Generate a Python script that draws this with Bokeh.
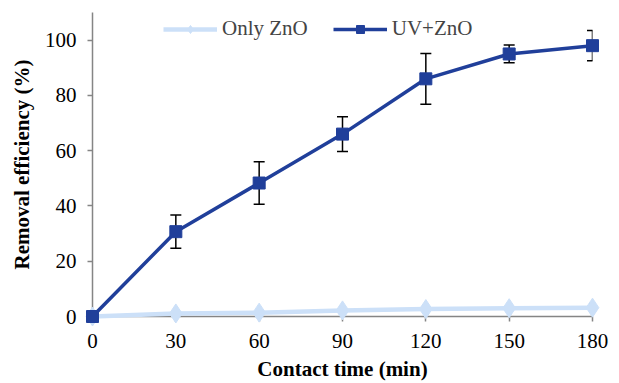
from bokeh.plotting import figure
from bokeh.models import ColumnDataSource, Whisker, Legend, LegendItem, Range1d, TeeHead, FixedTicker
from bokeh.embed import file_html
from bokeh.resources import INLINE

time_min = [0, 30, 60, 90, 120, 150, 180]
only_zno = [0, 1.1, 1.4, 2.2, 2.7, 3.0, 3.2]
uv_zno = [0, 30.7, 48.3, 66.0, 86.0, 95.0, 98.0]
uv_err = [0, 6.0, 7.7, 6.3, 9.2, 3.2, 5.5]
zno_err = [0, 0, 0, 0, 0, 0, 1.5]
x_ticks = [0, 30, 60, 90, 120, 150, 180]
y_ticks = [0, 20, 40, 60, 80, 100]

FONT = "Liberation Serif"
DARK = "#203F9A"
LIGHT = "#CCE0F8"
AXIS = "#858585"
FS = "21px"

p = figure(width=611, height=383, output_backend="svg", toolbar_location=None,
           x_range=Range1d(0, 180), y_range=Range1d(0, 110),
           min_border_left=92, min_border_right=19, min_border_top=12, min_border_bottom=66)
p.outline_line_color = None
p.grid.grid_line_color = None
p.background_fill_color = "white"

src_uv = ColumnDataSource(dict(x=time_min, y=uv_zno,
                               lo=[a - b for a, b in zip(uv_zno, uv_err)],
                               hi=[a + b for a, b in zip(uv_zno, uv_err)]))
src_zn = ColumnDataSource(dict(x=time_min, y=only_zno,
                               lo=[a - b for a, b in zip(only_zno, zno_err)],
                               hi=[a + b for a, b in zip(only_zno, zno_err)]))

wz = Whisker(source=src_zn, base="x", lower="lo", upper="hi", line_color="black", line_width=1.2, line_dash="1 1",
             upper_head=TeeHead(size=6, line_color="black", line_width=1.2),
             lower_head=TeeHead(size=6, line_color="black", line_width=1.2))
p.add_layout(wz)

l1 = p.line("x", "y", source=src_zn, line_color=LIGHT, line_width=4.5, level="overlay")
m1 = p.scatter("x", "y", source=src_zn, marker="diamond", size=19, fill_color=LIGHT, line_color=LIGHT, level="overlay")

wu = Whisker(source=src_uv, base="x", lower="lo", upper="hi", line_color="black", line_width=1.5,
             upper_head=TeeHead(size=11, line_color="black", line_width=1.5),
             lower_head=TeeHead(size=11, line_color="black", line_width=1.5))
p.add_layout(wu)

l2 = p.line("x", "y", source=src_uv, line_color=DARK, line_width=3.5, level="overlay")
m2 = p.scatter("x", "y", source=src_uv, marker="square", size=12, fill_color=DARK, line_color=DARK, level="overlay")

for ax in (p.xaxis[0], p.yaxis[0]):
    ax.axis_line_color = AXIS
    ax.axis_line_width = 1.5
    ax.major_tick_line_color = AXIS
    ax.major_tick_line_width = 1.5
    ax.major_tick_out = 5
    ax.major_tick_in = 0
    ax.minor_tick_line_color = None
    ax.major_label_text_font = FONT
    ax.major_label_text_font_size = FS
    ax.major_label_text_color = "black"
    ax.major_label_text_line_height = 1.0
    ax.axis_label_text_font = FONT
    ax.axis_label_text_font_size = FS
    ax.axis_label_text_font_style = "bold"
    ax.axis_label_text_color = "black"
    ax.axis_label_text_line_height = 1.0

p.xaxis.ticker = FixedTicker(ticks=x_ticks)
p.yaxis.ticker = FixedTicker(ticks=y_ticks)
p.xaxis.axis_label = "Contact time (min)"
p.yaxis.axis_label = "Removal efficiency (%)"
p.xaxis.major_label_standoff = 12
p.yaxis.major_label_standoff = 11
p.xaxis.axis_label_standoff = 6
p.yaxis.axis_label_standoff = 8

legend = Legend(items=[LegendItem(label="Only ZnO", renderers=[l1, m1]),
                       LegendItem(label="UV+ZnO", renderers=[l2, m2])],
                orientation="horizontal", location=(71, 275),
                border_line_color=None, background_fill_alpha=0,
                label_text_font=FONT, label_text_font_size=FS,
                glyph_width=54, glyph_height=20, label_height=24, label_standoff=5, spacing=25,
                margin=0, padding=0)
p.add_layout(legend)

html = file_html(p, INLINE)
open("out.html", "w").write(html)
